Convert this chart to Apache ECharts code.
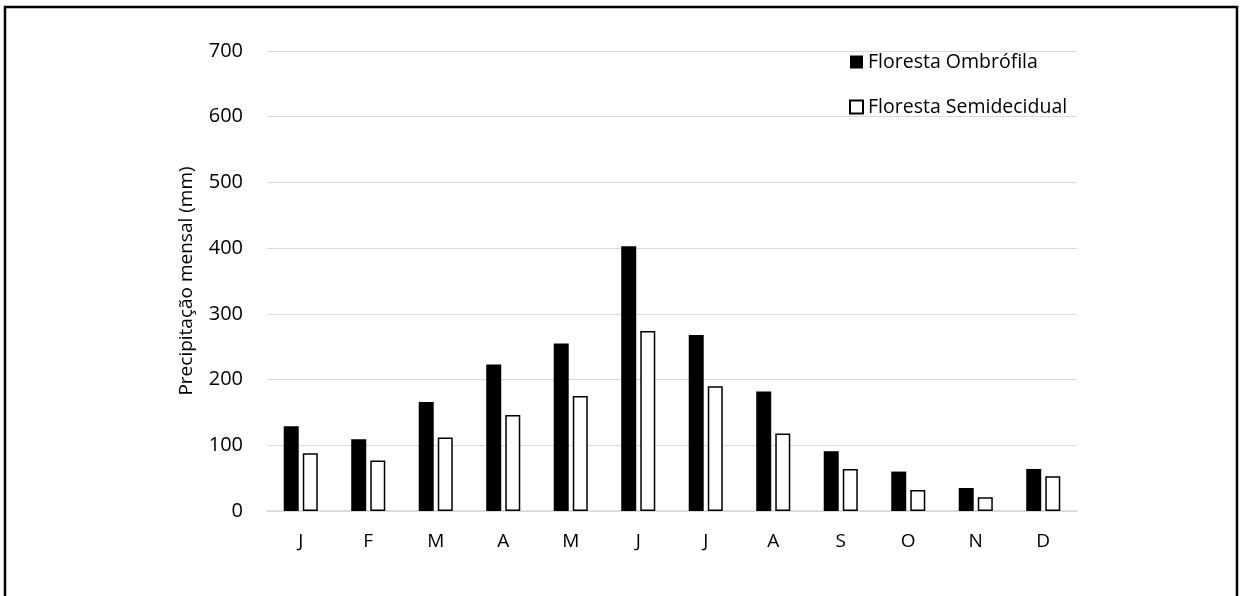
<!DOCTYPE html>
<html>
<head>
<meta charset="utf-8">
<script src="https://cdn.jsdelivr.net/npm/echarts@6/dist/echarts.min.js"></script>
<style>html,body{margin:0;padding:0;background:#fff;}#chart{width:1241px;height:596px;}</style>
</head>
<body>
<div id="chart"></div>
<script>
const months = ['J','F','M','A','M','J','J','A','S','O','N','D'];
const ombrofila = [129, 109, 166, 223, 255, 403, 268, 182, 91, 60, 35, 64];
const semidecidual = [88, 77, 112, 146, 175, 274, 190, 118, 64, 32, 21, 53];
const yTicks = [0, 100, 200, 300, 400, 500, 600, 700];

const FONT = 'Open Sans';
const chart = echarts.init(document.getElementById('chart'), null, {renderer: 'canvas'});
chart.setOption({
  backgroundColor: '#fff',
  animation: false,
  textStyle: {fontFamily: FONT, color: '#000'},
  graphic: [{
    type: 'rect', shape: {x: 5, y: 7, width: 1232, height: 600},
    style: {fill: 'none', stroke: '#000', lineWidth: 2.5}, silent: true
  }],
  grid: {left: 267, right: 164, top: 51, bottom: 85},
  legend: {
    orient: 'vertical', left: 844, top: 47, itemWidth: 13, itemHeight: 13, itemGap: 25,
    icon: 'rect',
    textStyle: {fontFamily: FONT, fontSize: 19.5, color: '#000', lineHeight: 20},
    data: ['Floresta Ombrófila', 'Floresta Semidecidual']
  },
  xAxis: {
    type: 'category', data: months,
    axisLine: {lineStyle: {color: '#d9d9d9', width: 1.5}},
    axisTick: {show: false},
    axisLabel: {fontFamily: FONT, fontSize: 19, color: '#000', margin: 21}
  },
  yAxis: {
    type: 'value', min: yTicks[0], max: yTicks[yTicks.length - 1], interval: 100,
    name: 'Precipitação mensal (mm)', nameLocation: 'middle', nameGap: 71,
    nameTextStyle: {fontFamily: FONT, fontSize: 19, color: '#000'},
    axisLine: {show: false}, axisTick: {show: false},
    axisLabel: {fontFamily: FONT, fontSize: 20, color: '#000', margin: 24},
    splitLine: {lineStyle: {color: '#d9d9d9', width: 1}}
  },
  series: [
    {name: 'Floresta Ombrófila', type: 'bar', data: ombrofila, barWidth: 15, barGap: '27%',
     itemStyle: {color: '#000'}},
    {name: 'Floresta Semidecidual', type: 'bar', data: semidecidual, barWidth: 15, barGap: '27%',
     itemStyle: {color: '#fff', borderColor: '#000', borderWidth: 1.5}}
  ]
});
</script>
</body>
</html>
